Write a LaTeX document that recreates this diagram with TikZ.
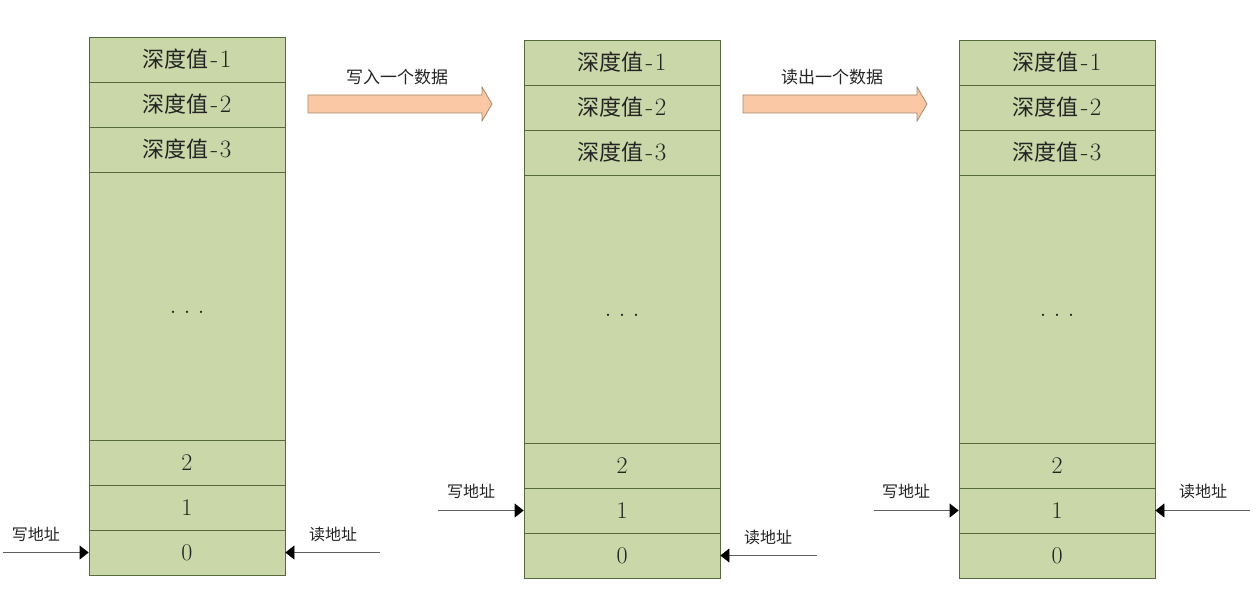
\documentclass[tikz,border=0pt]{standalone}
\usepackage{fontspec}
\newfontfamily\cjk{Noto Sans CJK SC}
\usetikzlibrary{arrows.meta}
\definecolor{cellfill}{RGB}{202,215,169}
\definecolor{cellline}{RGB}{85,105,60}
\definecolor{arrfill}{RGB}{250,200,165}
\definecolor{arrline}{RGB}{165,135,105}
\definecolor{ptrline}{RGB}{95,95,95}
\definecolor{txt}{RGB}{35,35,35}
\tikzset{
  cell/.style={draw=cellline, fill=cellfill, minimum width=196pt, inner sep=0pt,
    line width=0.8pt, text=txt, font=\fontsize{22}{24}\selectfont},
  numcell/.style={cell, minimum height=45pt, font=\fontsize{24}{26}\selectfont},
  ptr/.style={draw=ptrline, line width=0.8pt, -{Triangle[length=9pt,width=14pt,color=black]}},
  ptrlabel/.style={text=txt, font=\cjk\fontsize{16}{18}\selectfont, inner sep=0pt},
  blockarrow/.style={fill=arrfill, draw=arrline, line width=0.8pt, line join=miter},
  arrlabel/.style={text=txt, font=\cjk\fontsize{17}{19}\selectfont, inner sep=0pt}
}
\newcommand\depthtext[1]{{\cjk 深度值}\hspace{2pt}{\fontsize{25}{27}\selectfont -\hspace{1.5pt}#1}}
\newcommand\fifocol[3]{%
  \node[cell, minimum height=45pt] (#1a) at (#2,#3+22.5) {\depthtext{1}};
  \node[cell, minimum height=45pt] (#1b) at (#2,#3+67.5) {\depthtext{2}};
  \node[cell, minimum height=45pt] (#1c) at (#2,#3+112.5) {\depthtext{3}};
  \node[cell, minimum height=268pt] (#1d) at (#2,#3+269) {};
  \node[text=txt, font=\fontsize{28}{30}\selectfont, inner sep=0pt] (#1dots) at (#2,#3+275) {.\hspace{7pt}.\hspace{7pt}.};
  \node[numcell] (#1e) at (#2,#3+425.5) {2};
  \node[numcell] (#1f) at (#2,#3+470.5) {1};
  \node[numcell] (#1g) at (#2,#3+515.5) {0};
}
\begin{document}
\begin{tikzpicture}[x=1pt,y=-1pt]
\useasboundingbox (0,0) rectangle (1257,596);
\fifocol{A}{187}{37}
\fifocol{B}{622}{40}
\fifocol{C}{1057}{40}

% block arrows
\path[blockarrow] (308,95) -- (482,95) -- (482,87) -- (492,104) -- (482,121) -- (482,113) -- (308,113) -- cycle;
\node[arrlabel] (wlab) at (397,77) {写入一个数据};
\path[blockarrow] (743,95) -- (917,95) -- (917,87) -- (927,104) -- (917,121) -- (917,113) -- (743,113) -- cycle;
\node[arrlabel] (rlab) at (832,77) {读出一个数据};

% column 1 pointers
\coordinate (w1) at (3,552.5);
\draw[ptr] (w1) -- (Ag.west);
\node[ptrlabel] (lw1) at (36,534) {写地址};
\coordinate (r1) at (380,552.5);
\draw[ptr] (r1) -- (Ag.east);
\node[ptrlabel] (lr1) at (333,534) {读地址};

% column 2 pointers
\coordinate (w2) at (438,510.5);
\draw[ptr] (w2) -- (Bf.west);
\node[ptrlabel] (lw2) at (471,491) {写地址};
\coordinate (r2) at (817,555.5);
\draw[ptr] (r2) -- (Bg.east);
\node[ptrlabel] (lr2) at (768,537) {读地址};

% column 3 pointers
\coordinate (w3) at (874,510.5);
\draw[ptr] (w3) -- (Cf.west);
\node[ptrlabel] (lw3) at (906,491) {写地址};
\coordinate (r3) at (1250,510.5);
\draw[ptr] (r3) -- (Cf.east);
\node[ptrlabel] (lr3) at (1203,491) {读地址};
\end{tikzpicture}
\end{document}
